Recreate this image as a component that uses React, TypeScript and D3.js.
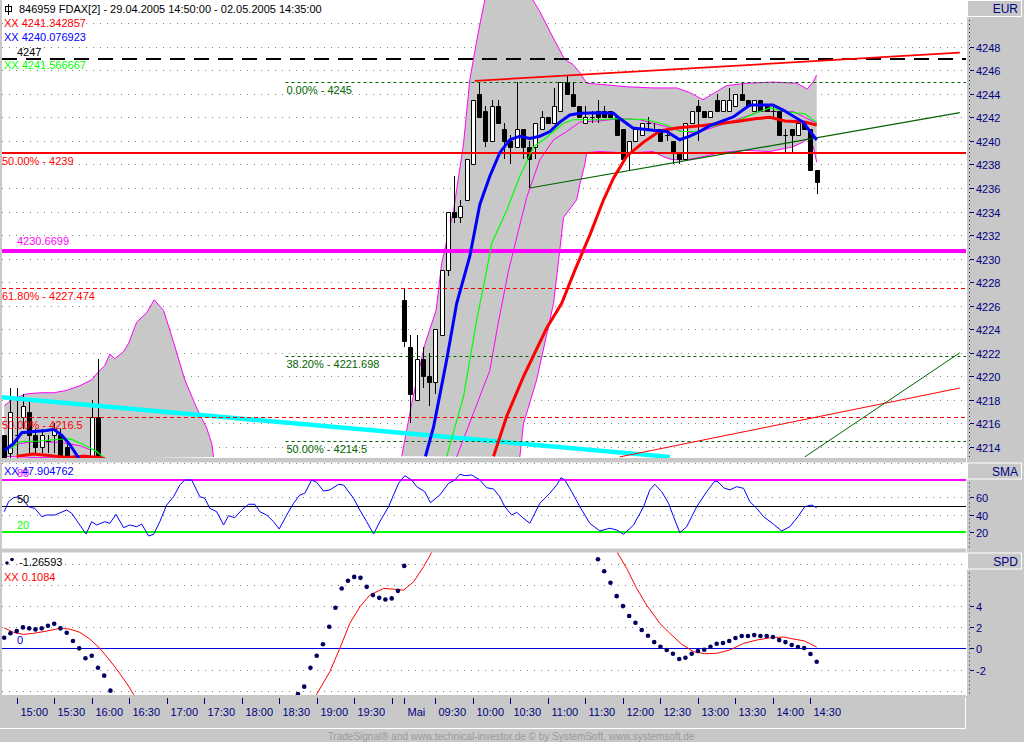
import * as React from 'react'
import { useEffect, useRef } from 'react'
import * as d3 from 'd3'

type Pt = [number, number]

// bar index: 0 = 29.04.2005 14:50 (5 minute bars), 64 = first bar of 02.05.2005
const lastBar = 130

// visible candles: [bar, open, high, low, close]
const candlesApr29: number[][] = [
  [0, 4215.0, 4215.0, 4211.5, 4212.0],
  [1, 4213.5, 4219.0, 4213.0, 4217.0],
  [2, 4215.0, 4219.0, 4213.0, 4215.0],
  [3, 4216.5, 4218.5, 4215.5, 4217.5],
  [4, 4217.0, 4218.0, 4213.5, 4215.0],
  [5, 4215.0, 4215.5, 4213.5, 4214.0],
  [6, 4214.0, 4215.5, 4213.5, 4215.0],
  [7, 4214.5, 4215.0, 4213.5, 4214.5],
  [8, 4215.0, 4216.0, 4213.5, 4215.5],
  [9, 4215.0, 4215.5, 4212.5, 4212.5],
  [10, 4214.0, 4214.5, 4211.5, 4212.0],
  [14, 4213.0, 4218.0, 4212.5, 4216.5],
  [15, 4216.5, 4221.5, 4212.0, 4212.5],
]

const candlesMay02: number[][] = [
  [64, 4226.5, 4227.5, 4222.5, 4223.0],
  [65, 4222.5, 4223.5, 4216.0, 4218.5],
  [66, 4218.0, 4223.5, 4218.0, 4221.5],
  [67, 4221.5, 4222.5, 4219.0, 4220.0],
  [68, 4220.0, 4222.0, 4217.5, 4219.5],
  [69, 4219.5, 4224.0, 4218.5, 4224.0],
  [70, 4223.5, 4229.0, 4223.5, 4229.0],
  [71, 4229.0, 4234.0, 4228.5, 4234.0],
  [72, 4234.0, 4237.0, 4233.0, 4233.5],
  [73, 4233.5, 4235.0, 4233.0, 4234.5],
  [74, 4235.0, 4238.5, 4235.0, 4238.5],
  [75, 4238.0, 4243.5, 4238.0, 4243.5],
  [76, 4244.0, 4245.0, 4242.0, 4242.0],
  [77, 4242.5, 4243.0, 4239.5, 4240.0],
  [78, 4240.0, 4243.5, 4240.0, 4243.0],
  [79, 4243.0, 4243.5, 4241.5, 4241.5],
  [80, 4241.0, 4241.5, 4238.5, 4240.0],
  [81, 4240.0, 4240.5, 4238.0, 4239.5],
  [82, 4239.5, 4245.0, 4239.5, 4241.0],
  [83, 4241.0, 4241.0, 4238.5, 4239.5],
  [84, 4239.5, 4240.0, 4236.0, 4238.5],
  [85, 4239.5, 4241.5, 4238.5, 4241.5],
  [86, 4241.0, 4242.5, 4241.0, 4242.0],
  [87, 4242.0, 4242.0, 4241.5, 4241.5],
  [88, 4241.5, 4244.5, 4241.5, 4243.0],
  [89, 4242.5, 4245.0, 4242.5, 4245.0],
  [90, 4245.0, 4245.5, 4244.0, 4244.0],
  [91, 4244.0, 4245.0, 4243.0, 4243.0],
  [92, 4243.0, 4243.0, 4242.0, 4242.0],
  [93, 4241.5, 4243.0, 4241.5, 4242.0],
  [94, 4242.0, 4242.5, 4241.5, 4242.0],
  [95, 4242.5, 4243.5, 4241.5, 4242.0],
  [96, 4242.5, 4243.0, 4242.0, 4242.0],
  [97, 4242.5, 4242.5, 4242.0, 4242.0],
  [98, 4242.0, 4242.0, 4240.5, 4240.5],
  [99, 4241.0, 4241.0, 4238.5, 4238.5],
  [100, 4239.0, 4240.0, 4237.5, 4240.0],
  [101, 4240.0, 4241.0, 4240.0, 4241.0],
  [102, 4240.5, 4241.5, 4240.5, 4241.5],
  [103, 4241.5, 4242.0, 4241.0, 4241.5],
  [104, 4241.0, 4241.5, 4241.0, 4241.0],
  [105, 4241.0, 4241.0, 4240.0, 4240.0],
  [106, 4240.5, 4241.0, 4240.0, 4240.5],
  [107, 4240.0, 4240.0, 4238.0, 4239.0],
  [108, 4239.0, 4239.0, 4238.0, 4238.5],
  [109, 4238.5, 4241.5, 4238.5, 4241.5],
  [110, 4241.5, 4242.5, 4241.5, 4242.5],
  [111, 4243.0, 4243.5, 4240.0, 4242.5],
  [112, 4242.5, 4242.5, 4242.0, 4242.0],
  [113, 4242.0, 4242.5, 4242.0, 4242.5],
  [114, 4243.5, 4244.0, 4242.5, 4242.5],
  [115, 4242.5, 4243.5, 4242.5, 4243.5],
  [116, 4242.5, 4244.5, 4242.5, 4243.5],
  [117, 4243.0, 4244.0, 4243.0, 4244.0],
  [118, 4244.0, 4245.0, 4243.5, 4243.5],
  [119, 4243.5, 4243.5, 4243.0, 4243.0],
  [120, 4242.5, 4243.5, 4242.5, 4243.5],
  [121, 4243.5, 4243.5, 4242.5, 4242.5],
  [122, 4243.0, 4243.0, 4242.5, 4242.5],
  [123, 4242.5, 4243.0, 4242.0, 4242.5],
  [124, 4242.5, 4242.5, 4240.5, 4240.5],
  [125, 4240.5, 4241.0, 4239.0, 4240.5],
  [126, 4241.0, 4241.0, 4239.0, 4240.5],
  [127, 4240.5, 4241.5, 4240.5, 4241.5],
  [128, 4241.5, 4241.5, 4241.0, 4241.0],
  [129, 4241.0, 4241.0, 4237.5, 4237.5],
  [130, 4237.5, 4237.5, 4235.5, 4236.5],
]

// band (gray channel): [bar, price]
const upperBandApr29: Pt[] = [
  [0, 4217.5], [1.5, 4218.1], [3.6, 4218.5], [5.7, 4218.6], [7.9, 4218.6], [10, 4218.8],
  [12.1, 4219.2], [14, 4219.7], [15.1, 4220.4], [16.1, 4220.9], [16.9, 4221.9], [17.7, 4221.5],
  [19.1, 4222.1], [19.9, 4222.8], [21.2, 4224.6], [22.8, 4225.4], [24, 4226.5], [25.5, 4225.6],
  [27.1, 4222.9], [28.9, 4219.7], [30.8, 4217.3], [32.4, 4215.6], [33.2, 4214.3], [33.5, 4213.15],
]
const lowerBandApr29: Pt[] = [
  [0, 4213.2], [5, 4213.1], [10, 4213.15], [12.7, 4213.3], [15.3, 4213.2], [16.4, 4213.0],
]
const innerBandApr29: Pt[] = [
  [0.1, 4213.6], [1.5, 4214.2], [4.1, 4214.4], [8.9, 4214.4], [12.1, 4214.1], [14.5, 4213.6], [15.9, 4213.1],
]
const upperBandMay02: Pt[] = [
  [63.6, 4213.2], [65.4, 4218.2], [67.3, 4222.7], [69.1, 4225.6], [70, 4229.6], [71.9, 4234.1],
  [73.5, 4239.8], [74.5, 4245.2], [75.5, 4248.2], [76.4, 4250.7], [77.4, 4253.2], [79.3, 4255.4],
  [81.7, 4254.5], [84.1, 4252.4], [85.7, 4251.0], [87.6, 4249.0], [89.7, 4246.9], [91, 4246.5],
  [92.1, 4245.8], [93.2, 4244.9], [96.5, 4244.75], [99.6, 4244.6], [103.8, 4244.5], [107.6, 4244.5],
  [109.7, 4244.1], [111.8, 4243.5], [113.7, 4244.1], [115.6, 4244.7], [118.8, 4244.9], [123, 4245.0],
  [126.8, 4244.9], [128.5, 4244.4], [129.4, 4245.0], [130, 4245.6],
]
const lowerBandMay02: Pt[] = [
  [82.5, 4213.15], [83.1, 4216.0], [85.2, 4219.7], [87.9, 4226.2], [89.5, 4233.5], [91.6, 4235.0],
  [92.1, 4236.3], [92.9, 4238.0], [93.2, 4239.0], [95.3, 4239.1], [98.5, 4239.0], [100.6, 4239.0],
  [103.8, 4239.1], [105.7, 4238.6], [107, 4238.4], [109.1, 4238.4], [111.3, 4238.6], [114.5, 4239.0],
  [118.5, 4239.2], [122.5, 4239.1], [126.2, 4239.5], [127.8, 4239.9], [128.6, 4240.2], [129.4, 4239.6],
  [130, 4238.2],
]
const innerBandMay02: Pt[] = [
  [72.4, 4213.15], [77.7, 4220.5], [79, 4224.4], [80.7, 4229.0], [83.6, 4235.2], [85.7, 4238.4],
  [87.9, 4240.1], [90, 4240.8], [92.1, 4241.6], [95.3, 4241.7], [98.5, 4241.9], [101.7, 4241.8],
  [104.9, 4241.35], [109.2, 4240.7], [111.3, 4240.8], [115.6, 4241.5], [120.9, 4242.5], [126.2, 4242.5],
  [128.1, 4242.0], [130, 4241.5],
]

// moving averages: [bar, price]
const blueMaApr29: Pt[] = [
  [0.1, 4213.7], [1.5, 4214.3], [2.8, 4215.2], [4.7, 4215.3], [6.8, 4215.4], [7.9, 4215.5],
  [9.2, 4215.0], [10.5, 4214.2], [12.1, 4212.9],
]
const blueMaMay02: Pt[] = [
  [67.4, 4213.2], [68.7, 4215.7], [70.8, 4221.4], [72.4, 4226.2], [74.5, 4230.2], [76.1, 4234.6],
  [77.7, 4237.0], [79.3, 4239.0], [80.9, 4240.1], [82.5, 4240.4], [84.1, 4240.2], [85.7, 4240.4],
  [87.3, 4240.8], [88.9, 4241.6], [90.5, 4242.2], [92.1, 4242.35], [95.3, 4242.4], [97.5, 4242.35],
  [98.5, 4241.9], [100.6, 4241.1], [103.8, 4240.9], [106, 4240.8], [108.1, 4240.1], [109.7, 4240.4],
  [111.3, 4240.8], [112.9, 4241.3], [116.7, 4242.05], [119.3, 4243.05], [123, 4243.05], [124.7, 4242.6],
  [127.8, 4241.6], [130, 4240.08],
]
const greenMaApr29: Pt[] = [
  [0.9, 4213.8], [2.5, 4214.45], [5.7, 4214.5], [8.9, 4214.65], [10.5, 4214.7], [12.7, 4214.2],
  [14.8, 4213.6], [15.9, 4213.1],
]
const greenMaMay02: Pt[] = [
  [70.8, 4213.2], [73.5, 4218.3], [75.6, 4224.8], [77.2, 4229.0], [78, 4231.3], [80.4, 4234.1],
  [82.5, 4237.0], [84.7, 4239.5], [86.3, 4240.1], [87.9, 4240.8], [89.5, 4241.5], [91, 4241.8],
  [95.9, 4241.8], [97.5, 4241.9], [102.8, 4241.8], [106, 4241.35], [108.1, 4240.8], [111.3, 4240.8],
  [112.9, 4241.2], [117.2, 4241.7], [120.4, 4242.4], [122.5, 4242.8], [124.9, 4242.5], [128.1, 4242.3],
  [130, 4241.57],
]
const redMaApr29: Pt[] = [
  [2, 4213.2], [4.7, 4213.4], [6.8, 4213.3], [10, 4213.1], [12.7, 4213.2], [15.3, 4213.1], [16.4, 4212.9],
]
const redMaMay02: Pt[] = [
  [78.3, 4213.2], [80.4, 4216.6], [83.1, 4220.0], [86.8, 4224.1], [89.2, 4226.2], [91.3, 4229.0],
  [93.7, 4232.0], [95.9, 4235.0], [97.5, 4236.85], [99.6, 4238.7], [102.3, 4239.9], [104.9, 4240.85],
  [107.6, 4241.1], [111.8, 4241.3], [117.2, 4241.65], [120.4, 4241.9], [122.5, 4242.0], [124.9, 4241.7],
  [128.1, 4241.6], [130, 4241.34],
]

// drawn trend lines: [bar, price] end points
const cyanTrend: Pt[] = [[-0.7, 4218.24], [106.5, 4213.15]]
const redTrendTop: Pt[] = [[75.3, 4245.1], [152.9, 4247.5]]
const greenTrend: Pt[] = [[84.1, 4236.0], [152.9, 4242.4]]
const redTrendLow: Pt[] = [[98.5, 4213.15], [152.9, 4219.0]]
const greenTrendLow: Pt[] = [[128.1, 4213.15], [152.9, 4222.0]]

// horizontal levels
const blackLevel = 4247
const magentaLevel = 4230.6699
const redSolidLevel = { pct: '50.00%', price: 4239 }
const redFib = [{ pct: '61.80%', price: 4227.474 }, { pct: '50.00%', price: 4216.5 }]
const greenFib = [{ pct: '0.00%', price: 4245 }, { pct: '38.20%', price: 4221.698 }, { pct: '50.00%', price: 4214.5 }]
const greenFibStart = 45

// SMA oscillator panel: [bar, value]
const smaOsc: Pt[] = [
  [0, 43.4], [0.7, 55.0], [1.5, 59.6], [2.3, 60.7], [3.1, 56.9], [3.9, 49.2], [4.9, 47.3], [6, 37.7],
  [6.8, 39.6], [8.1, 39.6], [10, 45.4], [10.8, 41.6], [12.1, 28.1], [13.1, 17.7], [14, 31.9], [14.8, 28.1],
  [16.1, 31.9], [16.9, 30.0], [17.9, 40.4], [19.1, 25.0], [20.1, 28.1], [21.2, 26.1], [22, 29.2], [23.1, 15.4],
  [23.9, 17.3], [24.9, 31.9], [26, 51.2], [27.1, 60.7], [28.1, 74.2], [28.9, 80.0], [30, 80.0], [31.3, 60.7],
  [32.1, 58.9], [32.9, 47.3], [34, 43.4], [35.1, 28.1], [35.9, 38.8], [36.9, 36.5], [38, 45.4], [39.1, 52.0],
  [40.1, 52.0], [40.9, 43.4], [42, 39.6], [43.1, 31.9], [44, 23.5], [45.2, 39.6], [46.3, 53.1], [47.3, 62.7],
  [48.1, 64.7], [49.2, 80.0], [50, 77.3], [51.1, 67.3], [52.1, 68.5], [53.5, 75.0], [54.3, 74.2], [55.9, 58.9],
  [56.9, 45.4], [58, 31.9], [59.1, 17.7], [60.1, 31.9], [61.5, 49.2], [63.1, 76.2], [64.1, 85.0], [65.2, 80.0],
  [66, 72.3], [67.3, 66.5], [68.2, 53.8], [69.7, 62.7], [71.1, 76.2], [72.1, 80.0], [72.9, 86.6], [73.7, 85.0],
  [74.8, 85.8], [76.1, 80.0], [77.2, 71.1], [78.3, 69.6], [79.3, 60.7], [80.1, 49.2], [81.2, 39.6], [82, 42.7],
  [83.1, 35.8], [84.1, 30.0], [85.7, 53.1], [87.3, 64.7], [88.4, 74.2], [89.1, 82.7], [89.7, 80.0], [90.8, 66.5],
  [92.1, 49.2], [93.7, 30.0], [95.3, 21.2], [96.9, 24.3], [98, 22.3], [99.1, 17.3], [100.7, 28.1], [102.3, 49.2],
  [103.3, 68.5], [104.1, 75.0], [105.2, 66.5], [106.3, 53.1], [107.1, 37.7], [108.1, 19.2], [109.2, 26.1],
  [110.8, 49.2], [112.4, 66.5], [113.7, 78.8], [114.2, 78.0], [115.1, 71.1], [116.1, 68.5], [117.2, 72.3],
  [118.3, 70.4], [119.3, 55.0], [120.4, 47.3], [121.5, 37.7], [123.1, 28.9], [124.4, 21.2], [125.7, 26.1],
  [127, 37.7], [128.1, 49.2], [129.2, 51.2], [130, 47.9],
]
const smaLevels = [80, 50, 20]

// SPD panel: dots per bar (first bar of each run given), signal line [bar, value]
const spdDotsA = { start: 0, values: [1.0, 1.42, 1.63, 1.98, 1.89, 1.79, 1.89, 2.13, 2.32, 1.89, 1.47, 0.69, 0.0, -0.94, -0.7, -1.83, -2.58, -4.0] }
const spdDotsB = { start: 47, values: [-4.31, -3.62, -1.83, -0.7, 0.38, 2.04, 3.83, 5.66, 6.38, 6.75, 6.66, 5.81, 5.03, 4.77, 4.62, 4.72, 5.43, 7.79] }
const spdDotsC = {
  start: 95,
  values: [8.42, 7.29, 6.19, 4.93, 3.99, 3.05, 2.42, 1.73, 1.19, 0.59, 0.15, -0.16, -0.51, -1.01, -0.89, -0.51, -0.25, -0.13,
    0.15, 0.43, 0.5, 0.69, 0.97, 1.16, 1.16, 1.25, 1.16, 1.16, 1.07, 0.78, 0.59, 0.31, 0.12, 0.03, -0.54, -1.27],
}
const spdSignalA: Pt[] = [
  [0, 1.94], [1.5, 1.51], [3.1, 1.32], [4.7, 1.42], [6.8, 1.63], [8.9, 1.89], [10.5, 1.82], [12.1, 1.51],
  [13.7, 0.88], [15.3, 0.0], [17.5, -1.58], [19.6, -3.3], [20.7, -4.34], [21.5, -5.0],
]
const spdSignalB: Pt[] = [
  [49.2, -5.0], [50, -4.34], [52.1, -2.21], [53.7, 0.0], [55.3, 2.36], [56.9, 3.92], [58.5, 5.03], [60.7, 5.66],
  [62.3, 5.59], [63.9, 5.5], [65.5, 6.28], [67.1, 7.7], [68.4, 9.06], [69, 9.8],
]
const spdSignalC: Pt[] = [
  [97.5, 9.8], [98.1, 9.06], [99.6, 7.55], [101.2, 5.66], [102.8, 4.08], [104.9, 2.36], [106.5, 1.42],
  [108.4, 0.38], [110.3, -0.32], [112.1, -0.51], [114, -0.47], [116.1, -0.16], [118.3, 0.47], [120.4, 0.78],
  [122.5, 1.0], [124.7, 1.07], [126.3, 0.88], [128.1, 0.69], [130, 0.11],
]

// axes
const mainTicks = [4248, 4246, 4244, 4242, 4240, 4238, 4236, 4234, 4232, 4230, 4228, 4226, 4224, 4222, 4220, 4218, 4216, 4214]
const mainGrid = [4250, ...mainTicks]
const smaTicks = [60, 40, 20]
const smaGrid = [100, 60, 40]
const spdTicks = [4, 2, 0, -2]
const spdGrid = [8, 6, 4, 2, -2, -4]
const timeTicks: [number, string][] = [
  [2, '15:00'], [8, '15:30'], [14, '16:00'], [20, '16:30'], [26, '17:00'], [32, '17:30'], [38, '18:00'],
  [44, '18:30'], [50, '19:00'], [56, '19:30'], [62, ''], [64, 'Mai'], [69, '09:30'], [75, '10:00'],
  [81, '10:30'], [87, '11:00'], [93, '11:30'], [99, '12:00'], [105, '12:30'], [111, '13:00'],
  [117, '13:30'], [123, '14:00'], [129, '14:30'],
]

const legendMain = [
  { text: 'XX 4241.342857', color: '#ff0000' },
  { text: 'XX 4240.076923', color: '#0000ff' },
]
const legendGreen = 'XX 4241.566667'
const legendSma = 'XX 47.904762'
const legendSpdDots = '-1.26593'
const legendSpdLine = 'XX 0.1084'
const title = '846959  FDAX[2] - 29.04.2005 14:50:00 - 02.05.2005 14:35:00'
const footer = 'TradeSignal\u00ae and www.technical-investor.de \u00a9 by  SystemSoft, www.systemsoft.de'

const App = () => {
  const ref = useRef<SVGSVGElement | null>(null)

  useEffect(() => {
    const svg = d3.select(ref.current)
    svg.selectAll('*').remove()
    const font = "'Liberation Sans', Arial, sans-serif"
    const navy = '#000080'
    const gray = '#c8c8c8'
    const plotL = 2
    const plotR = 966

    svg.append('rect').attr('width', 1024).attr('height', 742).attr('fill', gray)

    const x = d3.scaleLinear().domain([0, lastBar]).range([4.2, 816.7])
    const yMain = d3.scaleLinear().domain([4214, 4246]).range([446.9, 70.3])
    const ySma = d3.scaleLinear().domain([20, 80]).range([532, 480])
    const ySpd = d3.scaleLinear().domain([-2, 4]).range([669.5, 606])

    const panels = [
      { id: 'main', top: 0, bottom: 458, name: 'EUR' },
      { id: 'sma', top: 462.5, bottom: 548.5, name: 'SMA' },
      { id: 'spd', top: 552.5, bottom: 695, name: 'SPD' },
    ]
    const defs = svg.append('defs')
    panels.forEach(p => {
      svg.append('rect')
        .attr('x', plotL).attr('y', p.top)
        .attr('width', plotR - plotL).attr('height', p.bottom - p.top)
        .attr('fill', '#fff')
      defs.append('clipPath').attr('id', 'clip-' + p.id)
        .append('rect')
        .attr('x', plotL).attr('y', p.top)
        .attr('width', plotR - plotL).attr('height', p.bottom - p.top)
    })

    const crisp = (v: number) => Math.round(v) + 0.5

    const grid = (g: any, vals: number[], scale: (v: number) => number) => {
      g.selectAll(null).data(vals).enter().append('line')
        .attr('x1', plotL).attr('x2', plotR)
        .attr('y1', (d: number) => crisp(scale(d))).attr('y2', (d: number) => crisp(scale(d)))
        .attr('stroke', '#808080').attr('stroke-dasharray', '1 6')
    }

    // ---------- main panel ----------
    const gm = svg.append('g').attr('clip-path', 'url(#clip-main)')
    grid(gm, mainGrid, yMain)

    const line = d3.line<Pt>().x(d => x(d[0])).y(d => yMain(d[1]))

    // gray channel
    const bandArea = (up: Pt[], lo: Pt[]) => line([...up, ...lo.slice().reverse()]) + 'Z'
    gm.append('path').attr('d', bandArea(upperBandApr29, lowerBandApr29)).attr('fill', gray)
    gm.append('path').attr('d', bandArea(upperBandMay02, lowerBandMay02)).attr('fill', gray)
    ;[upperBandApr29, lowerBandApr29, innerBandApr29, upperBandMay02, lowerBandMay02, innerBandMay02].forEach(s => {
      gm.append('path').attr('d', line(s)).attr('fill', 'none').attr('stroke', '#ff00ff').attr('stroke-width', 1)
    })

    // candles
    const candles = [...candlesApr29, ...candlesMay02]
    const cg = gm.append('g')
    candles.forEach(([i, o, h, l, c]) => {
      const cx = Math.round(x(i))
      cg.append('line')
        .attr('x1', cx + 0.5).attr('x2', cx + 0.5)
        .attr('y1', Math.round(yMain(h))).attr('y2', Math.round(yMain(l)))
        .attr('stroke', '#000')
      const t = crisp(yMain(Math.max(o, c)))
      const b = crisp(yMain(Math.min(o, c)))
      cg.append('path')
        .attr('d', `M${cx - 1.5},${t}H${cx + 2.5}V${b}H${cx - 1.5}Z`)
        .attr('fill', c >= o ? '#fff' : '#000')
        .attr('stroke', '#000')
    })

    // cyan trend
    gm.append('path').attr('d', line(cyanTrend)).attr('stroke', '#00ffff').attr('stroke-width', 4.5).attr('fill', 'none')

    // horizontal levels
    const hline = (price: number, from: number, color: string, width: number, dash: string | null) => {
      const yy = width % 2 === 1 ? crisp(yMain(price)) : Math.round(yMain(price))
      const ln = gm.append('line')
        .attr('x1', from).attr('x2', plotR).attr('y1', yy).attr('y2', yy)
        .attr('stroke', color).attr('stroke-width', width)
      if (dash) ln.attr('stroke-dasharray', dash)
    }
    hline(blackLevel, plotL, '#000', 2, '15 9')
    hline(redSolidLevel.price, plotL, '#ff0000', 2, null)
    hline(magentaLevel, plotL, '#ff00ff', 4, null)
    redFib.forEach(f => hline(f.price, plotL, '#ff0000', 1, '4 3'))
    greenFib.forEach(f => hline(f.price, x(greenFibStart), '#006400', 1, '3 3'))

    // trend lines
    gm.append('path').attr('d', line(redTrendTop)).attr('stroke', '#ff0000').attr('stroke-width', 1.8).attr('fill', 'none')
    gm.append('path').attr('d', line(greenTrend)).attr('stroke', '#006400').attr('stroke-width', 1.2).attr('fill', 'none')
    gm.append('path').attr('d', line(redTrendLow)).attr('stroke', '#ff0000').attr('stroke-width', 1).attr('fill', 'none')
    gm.append('path').attr('d', line(greenTrendLow)).attr('stroke', '#006400').attr('stroke-width', 1).attr('fill', 'none')

    // moving averages
    ;[greenMaApr29, greenMaMay02].forEach(s =>
      gm.append('path').attr('d', line(s)).attr('fill', 'none').attr('stroke', '#00ff00').attr('stroke-width', 1.2))
    ;[redMaApr29, redMaMay02].forEach(s =>
      gm.append('path').attr('d', line(s)).attr('fill', 'none').attr('stroke', '#ff0000').attr('stroke-width', 3))
    ;[blueMaApr29, blueMaMay02].forEach(s =>
      gm.append('path').attr('d', line(s)).attr('fill', 'none').attr('stroke', '#0000ff').attr('stroke-width', 3))

    // labels
    const txt = (g: any, tx: number, ty: number, s: string, color: string, size = 11, anchor = 'start') =>
      g.append('text').attr('x', tx).attr('y', ty).attr('fill', color)
        .attr('font-family', font).attr('font-size', size).attr('text-anchor', anchor).text(s)

    const lg = svg.append('g').attr('clip-path', 'url(#clip-main)')
    // title icon
    lg.append('rect').attr('x', 5.5).attr('y', 6.5).attr('width', 6).attr('height', 5).attr('fill', 'none').attr('stroke', '#000')
    lg.append('line').attr('x1', 8.5).attr('x2', 8.5).attr('y1', 4).attr('y2', 15).attr('stroke', '#000')
    txt(lg, 19, 13, title, '#000')
    legendMain.forEach((l, k) => txt(lg, 4, 27 + k * 14, l.text, l.color))
    txt(lg, 17, yMain(blackLevel) - 3, String(blackLevel), '#000')
    txt(lg, 4, 69, legendGreen, '#00ff00')
    txt(lg, 2, yMain(redSolidLevel.price) + 12, `${redSolidLevel.pct} - ${redSolidLevel.price}`, '#ff0000')
    txt(lg, 17, yMain(magentaLevel) - 6, String(magentaLevel), '#ff00ff')
    redFib.forEach(f => txt(lg, 2, yMain(f.price) + 12, `${f.pct} - ${f.price}`, '#ff0000'))
    greenFib.forEach(f => txt(lg, x(greenFibStart) + 1, yMain(f.price) + 12, `${f.pct} - ${f.price}`, '#006400'))

    // ---------- SMA panel ----------
    const gs = svg.append('g').attr('clip-path', 'url(#clip-sma)')
    grid(gs, smaGrid, ySma)
    const smaColors = ['#ff00ff', '#000', '#00ff00']
    smaLevels.forEach((v, k) => {
      gs.append('line').attr('x1', plotL).attr('x2', plotR)
        .attr('y1', Math.round(ySma(v)) + (k === 1 ? 0.5 : 0)).attr('y2', Math.round(ySma(v)) + (k === 1 ? 0.5 : 0))
        .attr('stroke', smaColors[k]).attr('stroke-width', k === 1 ? 1 : 2)
    })
    const smaLine = d3.line<Pt>().x(d => x(d[0])).y(d => ySma(d[1]))
    gs.append('path').attr('d', smaLine(smaOsc)).attr('fill', 'none').attr('stroke', '#0000ff').attr('stroke-width', 1)
    smaLevels.forEach((v, k) => txt(gs, 17, ySma(v) - 3, String(v), smaColors[k]))
    txt(gs, 4, 475, legendSma, '#0000ff')

    // ---------- SPD panel ----------
    const gp = svg.append('g').attr('clip-path', 'url(#clip-spd)')
    grid(gp, spdGrid, ySpd)
    gp.append('line').attr('x1', plotL).attr('x2', plotR)
      .attr('y1', crisp(ySpd(0))).attr('y2', crisp(ySpd(0)))
      .attr('stroke', '#0000dd').attr('stroke-width', 1)
    const spdLine = d3.line<Pt>().x(d => x(d[0])).y(d => ySpd(d[1]))
    ;[spdSignalA, spdSignalB, spdSignalC].forEach(s =>
      gp.append('path').attr('d', spdLine(s)).attr('fill', 'none').attr('stroke', '#ff0000').attr('stroke-width', 1))
    ;[spdDotsA, spdDotsB, spdDotsC].forEach(run => {
      gp.selectAll(null).data(run.values).enter().append('circle')
        .attr('cx', (_d: number, k: number) => x(run.start + k))
        .attr('cy', (d: number) => ySpd(d))
        .attr('r', 2.3).attr('fill', '#000060')
    })
    txt(gp, 17, ySpd(0) - 4, '0', '#0000dd')
    gp.append('circle').attr('cx', 7).attr('cy', 563).attr('r', 1.8).attr('fill', '#000060')
    gp.append('circle').attr('cx', 12).attr('cy', 559.5).attr('r', 1.8).attr('fill', '#000060')
    txt(gp, 19, 566, legendSpdDots, '#000')
    txt(gp, 4, 581, legendSpdLine, '#ff0000')

    // ---------- right axis strip ----------
    svg.append('line').attr('x1', 966.5).attr('x2', 966.5).attr('y1', 0).attr('y2', 696).attr('stroke', '#fff')
    const axisDefs = [
      { p: panels[0], ticks: mainTicks, scale: yMain },
      { p: panels[1], ticks: smaTicks, scale: ySma },
      { p: panels[2], ticks: spdTicks, scale: ySpd },
    ]
    axisDefs.forEach(({ p, ticks, scale }) => {
      const ag = svg.append('g')
      ag.append('rect').attr('x', 967.5).attr('y', p.top + 0.5).attr('width', 54).attr('height', 16)
        .attr('fill', gray).attr('stroke', '#fff')
      txt(ag, 1018, p.top + 13, p.name, navy, 12, 'end')
      ag.append('line').attr('x1', 969.5).attr('x2', 969.5).attr('y1', p.top + 20).attr('y2', p.bottom)
        .attr('stroke', '#202060').attr('stroke-dasharray', '1 3')
      ticks.forEach(t => {
        const yy = Math.round(scale(t)) + 0.5
        ag.append('line').attr('x1', 970).attr('x2', 974).attr('y1', yy).attr('y2', yy).attr('stroke', navy)
        txt(ag, 976, yy + 4, String(t), navy)
      })
    })

    // ---------- time axis ----------
    const tg = svg.append('g')
    tg.append('line').attr('x1', 0).attr('x2', 966).attr('y1', 728.5).attr('y2', 728.5).attr('stroke', '#fff')
    tg.append('line').attr('x1', 965.5).attr('x2', 965.5).attr('y1', 697).attr('y2', 729).attr('stroke', '#fff')
    timeTicks.forEach(([i, label]) => {
      const tx = Math.round(x(i)) + 0.5
      tg.append('line').attr('x1', tx).attr('x2', tx).attr('y1', 698).attr('y2', 704).attr('stroke', navy)
      if (label) txt(tg, tx + 3, 716, label, navy)
    })
    txt(svg, 511, 740, footer, '#9a9a9a', 10, 'middle')
  }, [])

  return (
    <div>
      <style>{'body{margin:0}'}</style>
      <svg ref={ref} width={1024} height={742} style={{ display: 'block' }} />
    </div>
  )
}

export default App
